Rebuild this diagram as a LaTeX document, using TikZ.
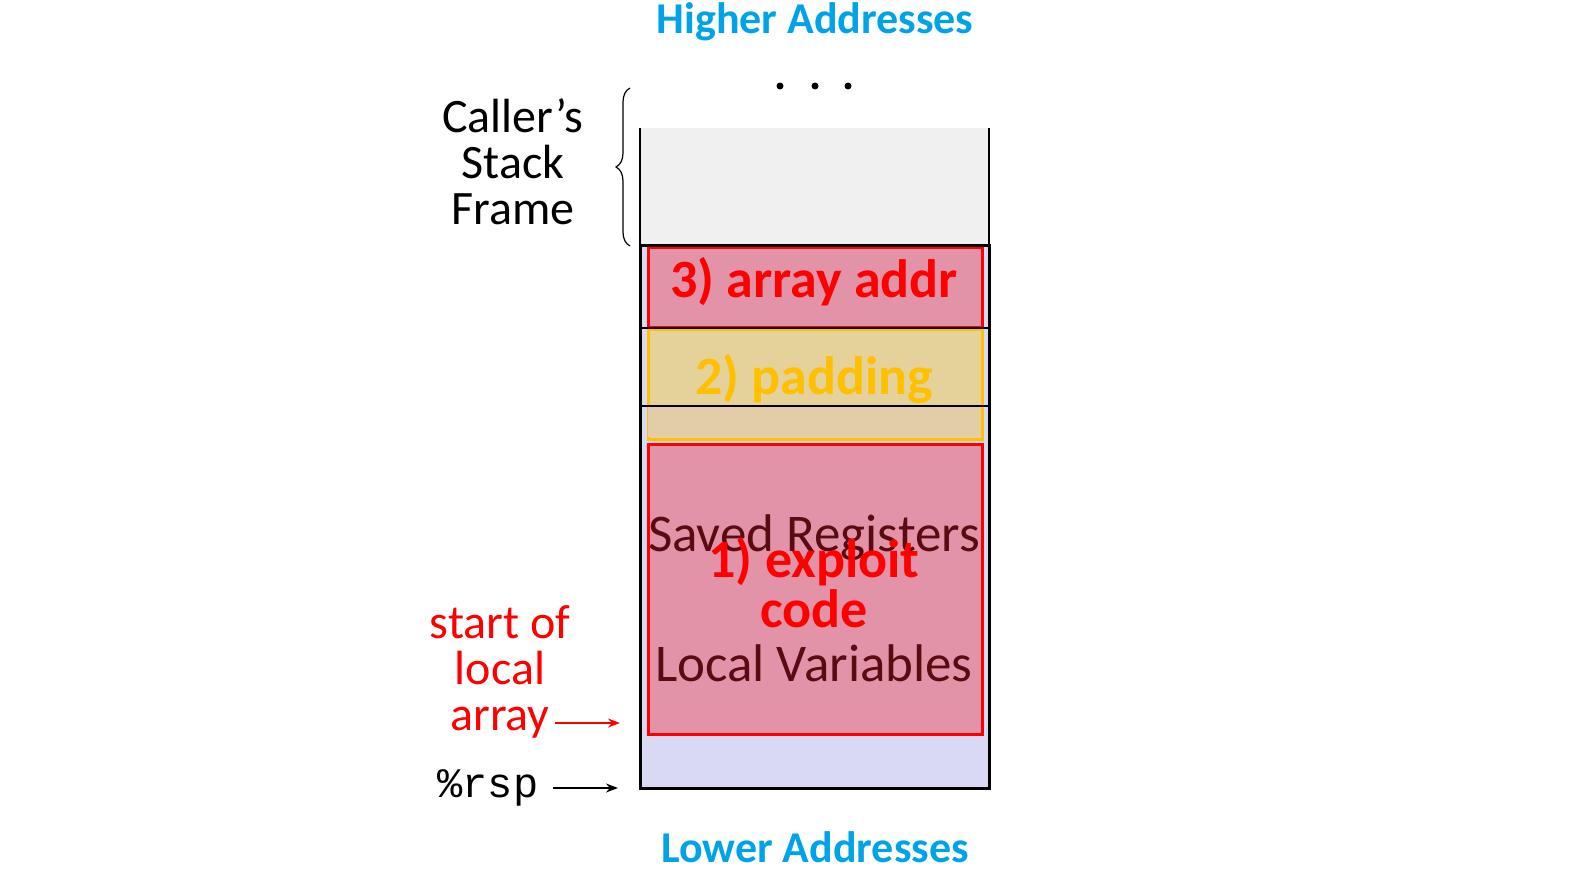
\documentclass[tikz,border=0pt]{standalone}
\usepackage{fontspec}
\setmainfont{Carlito}
\newfontfamily\mono{Liberation Mono}
\usetikzlibrary{decorations.pathreplacing,arrows.meta}
\definecolor{cyanT}{HTML}{00A3E8}
\definecolor{lav}{HTML}{D9D9F3}
\definecolor{pinkF}{HTML}{E293A8}
\definecolor{yelF}{HTML}{E4D29A}
\definecolor{yelF2}{HTML}{E2CDA8}
\definecolor{yelB}{HTML}{FFC000}
\definecolor{dred}{HTML}{5A0A10}
\begin{document}
\begin{tikzpicture}[x=1pt,y=-1pt,
  title/.style={font=\bfseries\fontsize{44}{46}\selectfont,text=cyanT},
  side/.style={font=\fontsize{48}{46}\selectfont,align=center},
  lab/.style={font=\bfseries\fontsize{54}{50}\selectfont,align=center},
  inner/.style={font=\fontsize{53}{46}\selectfont,text=dred}]
\useasboundingbox (0,0) rectangle (1579,874);
\node[title] (hi) at (815,22) {Higher Addresses};
\node[title] (lo) at (815,847) {Lower Addresses};
\foreach \x in {780,815,848} \fill (\x,86) circle (3.5);
\fill[gray!12] (640,128) rectangle (989,246);
\draw[line width=1.5pt] (640,128) -- (640,246) (989,128) -- (989,246);
\fill[lav] (640,246) rectangle (989,788);
\fill[yelF2] (647,406) rectangle (981,438);
\node[draw=yelB,line width=2.5pt,fill=yelF,minimum width=334,minimum height=109,anchor=north west,inner sep=0] (pad) at (647,329) {};
\fill[yelF2] (648,407) rectangle (980,437);
\node[draw=red,line width=2.5pt,fill=pinkF,minimum width=334,minimum height=79,anchor=north west,inner sep=0] (ret) at (647,247) {};
\node[draw=red,line width=2.5pt,fill=pinkF,minimum width=334,minimum height=290,anchor=north west,inner sep=0] (loc) at (647,443) {};
\draw[line width=3pt] (640,246) rectangle (989,788);
\draw[line width=2pt] (640,328) -- (989,328) (640,406) -- (989,406);
\node[inner] (sr) at (814,538) {Saved Registers};
\node[inner] (lv) at (814,663) {Local Variables};
\node[lab,text=red] (l3) at (814,282) {3) array addr};
\node[lab,text=yelB] (l2) at (814,379) {2) padding};
\node[lab,text=red] (l1) at (814,583) {1) exploit\\code};
\draw[line width=1.2pt,decorate,decoration={brace,amplitude=14pt}] (630,246) -- (630,88);
\node[side] (cf) at (513,162) {Caller’s\\Stack\\Frame};
\node[side,text=red] (sa) at (500,672) {start of\\local\\array};
\coordinate (sae) at (620,723);
\draw[red,line width=1.4pt,-{Stealth[length=12pt]}] (555,723) -- (sae);
\node[font=\mono\fontsize{42}{40}\selectfont] (rsp) at (488,788) {\%rsp};
\coordinate (rspe) at (618,788);
\draw[line width=1.4pt,-{Stealth[length=12pt]}] (553,788) -- (rspe);
\end{tikzpicture}
\end{document}
